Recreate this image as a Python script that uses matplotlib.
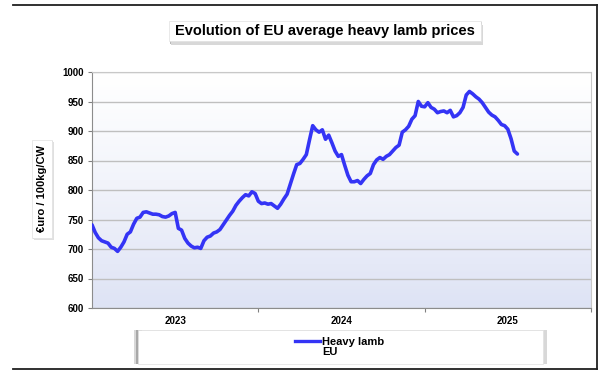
#!/usr/bin/env python3

import numpy as np
import matplotlib
matplotlib.use("Agg")
import matplotlib.pyplot as plt
from matplotlib.lines import Line2D
from matplotlib.patches import Rectangle

# weekly EU average heavy lamb price, euro / 100kg CW, from week 1 of 2023
prices = [
  741, 728, 719, 714, 712, 710, 703, 701, 696, 703,
  712, 725, 729, 742, 752, 754, 762, 763, 761, 759,
  759, 758, 755, 754, 756, 760, 762, 735, 732, 718,
  710, 705, 702, 703, 701, 714, 720, 722, 727, 729,
  733, 741, 749, 757, 764, 774, 781, 787, 792, 790,
  797, 794, 781, 777, 778, 776, 777, 773, 769, 776,
  785, 793, 810, 827, 843, 845, 852, 860, 885, 909,
  902, 898, 902, 886, 893, 880, 866, 857, 860, 842,
  825, 814, 814, 816, 811, 818, 824, 828, 843, 851,
  855, 852, 857, 860, 866, 872, 876, 898, 902, 908,
  920, 926, 950, 942, 941, 948, 940, 937, 931, 933,
  934, 931, 935, 924, 926, 931, 940, 961, 967, 963,
  958, 954, 948, 940, 932, 927, 924, 918, 911, 909,
  903, 887, 866, 861,
]
years = ["2023", "2024", "2025"]
weeks_per_year = 52
series_name = "Heavy lamb\nEU"
title = "Evolution of EU average heavy lamb prices"
ylabel = "€uro / 100kg/CW"

plt.rcParams["font.family"] = ["Liberation Sans", "DejaVu Sans"]
plt.rcParams["font.weight"] = "bold"

W, H = 600, 371

def box(fig, x0, y0, x1, y1, shadow, sx=3, sy=3):
  # white box in pixel coords (top-left origin) with a grey drop shadow
  for k, c in enumerate(shadow):
    o = k + 1
    fig.patches.append(Rectangle(((x0 + o*sx/len(shadow))/W, 1 - (y1 + o*sy/len(shadow))/H),
                                 (x1 - x0)/W, (y1 - y0)/H, transform=fig.transFigure,
                                 fc=c, ec="none", zorder=1))
  fig.patches.append(Rectangle((x0/W, 1 - y1/H), (x1 - x0)/W, (y1 - y0)/H,
                               transform=fig.transFigure, fc="white", ec="#e0e0e0",
                               lw=0.5, zorder=2))

def main():
  fig = plt.figure(figsize=(6, 3.71), dpi=100)

  ax = fig.add_axes([92/W, 1 - 308/H, (591-92)/W, (308-72)/H])

  nweeks = weeks_per_year * len(years)
  # gradient background
  grad = np.linspace(0, 1, 256).reshape(-1, 1)
  top = np.array([1.0, 1.0, 1.0])
  bot = np.array([0.87, 0.89, 0.96])
  img = top + (bot - top) * (grad[:, :, None] ** 1.2)
  ax.imshow(img, extent=[0, nweeks, 600, 1000], aspect="auto", zorder=0)

  X = np.arange(len(prices))
  ax.plot(X, prices, '-', color="#3434f5", lw=2.6, zorder=3, solid_capstyle="round")

  ax.set_xlim(0, nweeks)
  ax.set_ylim(600, 1000)
  ax.set_yticks(np.arange(600, 1001, 50))
  ax.yaxis.grid(True, color="#bfbfbf", lw=1.0, zorder=1)
  ax.set_axisbelow(True)
  ax.tick_params(axis="y", labelsize=7, length=3, color="#808080", pad=3)

  ax.set_xticks([weeks_per_year * i for i in range(1, len(years) + 1)])
  ax.set_xticklabels([])
  ax.set_xticks([weeks_per_year * (i + 0.5) for i in range(len(years))], minor=True)
  ax.set_xticklabels(years, minor=True, fontsize=7)
  ax.tick_params(axis="x", which="major", length=3, color="#808080")
  ax.tick_params(axis="x", which="minor", length=0, pad=6)

  for side in ["left", "bottom"]:
    ax.spines[side].set_color("#8c8c8c")
  for side in ["top", "right"]:
    ax.spines[side].set_color("#c8c8c8")

  # title box with shadow
  box(fig, 169, 21, 481, 41, ["#9a9a9a", "#b8b8b8", "#d8d8d8"], sx=2, sy=4)
  fig.text(325/W, 1 - 31/H, title, ha="center", va="center", fontsize=10.5, zorder=3)

  # y label box
  box(fig, 32, 140, 52, 238, ["#c8c8c8", "#e0e0e0"], sx=2, sy=2)
  fig.text(42/W, 1 - 189/H, ylabel, ha="center", va="center", rotation=90,
           fontsize=8, zorder=3)

  # legend box, shaded at its sides
  for dx, c in [(-4, "#d8d8d8"), (-2, "#a8a8a8"), (2, "#a8a8a8"), (4, "#d8d8d8")]:
    fig.patches.append(Rectangle(((138 + dx)/W, 1 - 364/H), (543-138)/W, (364-330)/H,
                                 transform=fig.transFigure, fc=c, ec="none", zorder=1))
  fig.patches.append(Rectangle((138/W, 1 - 364/H), (543-138)/W, (364-330)/H,
                               transform=fig.transFigure, fc="white", ec="#e0e0e0",
                               lw=0.5, zorder=2))
  fig.add_artist(Line2D([295/W, 320/W], [1 - 341/H, 1 - 341/H], color="#3434f5",
                        lw=2.4, zorder=5))
  fig.text(322/W, 1 - 347/H, series_name, ha="left", va="center", fontsize=8,
           linespacing=1.05, zorder=5)

  # outer frame
  fr = dict(color="#202020", lw=1.3, zorder=6)
  fig.add_artist(Line2D([13/W, 597/W], [1 - 5/H, 1 - 5/H], **fr))
  fig.add_artist(Line2D([597/W, 597/W], [1 - 5/H, 1 - 369/H], **fr))
  fig.add_artist(Line2D([13/W, 597/W], [1 - 369/H, 1 - 369/H], **fr))

  fig.savefig("out.png", dpi=100)

if __name__ == '__main__':
  main()
